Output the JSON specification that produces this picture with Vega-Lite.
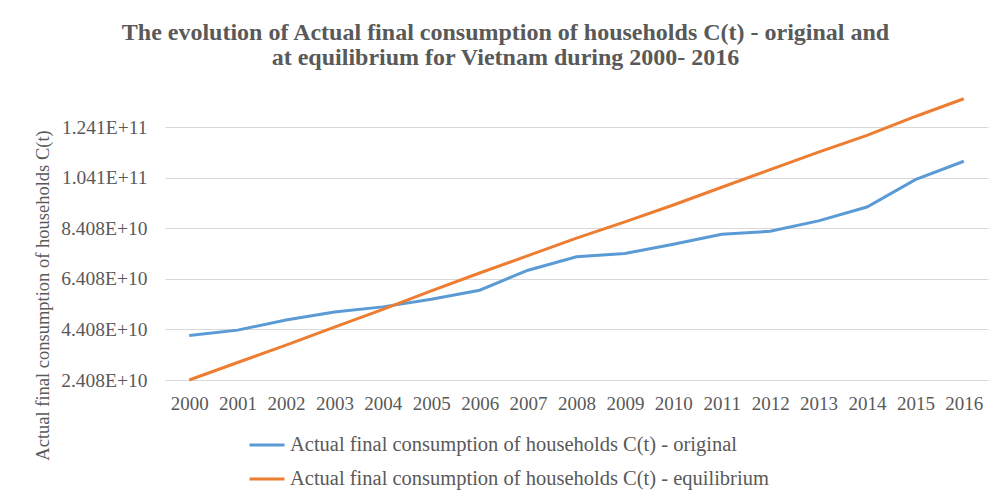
{
  "$schema": "https://vega.github.io/schema/vega-lite/v6.json",
  "width": 823,
  "height": 283,
  "autosize": {"type": "none"},
  "padding": {"left": 165, "top": 97, "right": 9, "bottom": 119},
  "background": "white",
  "title": {
    "text": ["The evolution of Actual final consumption of households C(t) - original and", "at equilibrium for Vietnam during 2000- 2016"],
    "font": "Liberation Serif",
    "fontSize": 24,
    "fontWeight": "bold",
    "color": "#595959",
    "anchor": "middle",
    "frame": "group",
    "dx": -71,
    "offset": 23,
    "lineHeight": 25
  },
  "data": {
    "values": [
      {"year": "2000", "series": "Actual final consumption of households C(t) - original", "value": 41700000000},
      {"year": "2001", "series": "Actual final consumption of households C(t) - original", "value": 43800000000},
      {"year": "2002", "series": "Actual final consumption of households C(t) - original", "value": 47800000000},
      {"year": "2003", "series": "Actual final consumption of households C(t) - original", "value": 51000000000},
      {"year": "2004", "series": "Actual final consumption of households C(t) - original", "value": 53000000000},
      {"year": "2005", "series": "Actual final consumption of households C(t) - original", "value": 56000000000},
      {"year": "2006", "series": "Actual final consumption of households C(t) - original", "value": 59600000000},
      {"year": "2007", "series": "Actual final consumption of households C(t) - original", "value": 67500000000},
      {"year": "2008", "series": "Actual final consumption of households C(t) - original", "value": 72800000000},
      {"year": "2009", "series": "Actual final consumption of households C(t) - original", "value": 74100000000},
      {"year": "2010", "series": "Actual final consumption of households C(t) - original", "value": 77800000000},
      {"year": "2011", "series": "Actual final consumption of households C(t) - original", "value": 81700000000},
      {"year": "2012", "series": "Actual final consumption of households C(t) - original", "value": 82900000000},
      {"year": "2013", "series": "Actual final consumption of households C(t) - original", "value": 87000000000},
      {"year": "2014", "series": "Actual final consumption of households C(t) - original", "value": 92500000000},
      {"year": "2015", "series": "Actual final consumption of households C(t) - original", "value": 103300000000},
      {"year": "2016", "series": "Actual final consumption of households C(t) - original", "value": 110600000000},
      {"year": "2000", "series": "Actual final consumption of households C(t) - equilibrium", "value": 24080000000},
      {"year": "2001", "series": "Actual final consumption of households C(t) - equilibrium", "value": 31000000000},
      {"year": "2002", "series": "Actual final consumption of households C(t) - equilibrium", "value": 37900000000},
      {"year": "2003", "series": "Actual final consumption of households C(t) - equilibrium", "value": 45000000000},
      {"year": "2004", "series": "Actual final consumption of households C(t) - equilibrium", "value": 52000000000},
      {"year": "2005", "series": "Actual final consumption of households C(t) - equilibrium", "value": 59300000000},
      {"year": "2006", "series": "Actual final consumption of households C(t) - equilibrium", "value": 66400000000},
      {"year": "2007", "series": "Actual final consumption of households C(t) - equilibrium", "value": 73300000000},
      {"year": "2008", "series": "Actual final consumption of households C(t) - equilibrium", "value": 80200000000},
      {"year": "2009", "series": "Actual final consumption of households C(t) - equilibrium", "value": 86600000000},
      {"year": "2010", "series": "Actual final consumption of households C(t) - equilibrium", "value": 93300000000},
      {"year": "2011", "series": "Actual final consumption of households C(t) - equilibrium", "value": 100300000000},
      {"year": "2012", "series": "Actual final consumption of households C(t) - equilibrium", "value": 107300000000},
      {"year": "2013", "series": "Actual final consumption of households C(t) - equilibrium", "value": 114200000000},
      {"year": "2014", "series": "Actual final consumption of households C(t) - equilibrium", "value": 120800000000},
      {"year": "2015", "series": "Actual final consumption of households C(t) - equilibrium", "value": 128300000000},
      {"year": "2016", "series": "Actual final consumption of households C(t) - equilibrium", "value": 135300000000}
    ]
  },
  "mark": {"type": "line", "strokeWidth": 3},
  "encoding": {
    "x": {
      "field": "year",
      "type": "ordinal",
      "scale": {"type": "point", "padding": 0.5},
      "axis": {
        "title": null,
        "labelAngle": 0,
        "ticks": false,
        "domain": false,
        "grid": false,
        "labelFont": "Liberation Serif",
        "labelFontSize": 19,
        "labelColor": "#595959",
        "labelPadding": 14
      }
    },
    "y": {
      "field": "value",
      "type": "quantitative",
      "scale": {"domain": [24080000000, 136000000000], "nice": false, "zero": false},
      "axis": {
        "values": [24080000000, 44080000000, 64080000000, 84080000000, 104080000000, 124080000000],
        "labelExpr": "replace(format(datum.value, '.3e'), 'e', 'E')",
        "ticks": false,
        "domain": false,
        "grid": true,
        "gridColor": "#D9D9D9",
        "gridWidth": 1,
        "labelFont": "Liberation Serif",
        "labelFontSize": 19.5,
        "labelColor": "#595959",
        "labelPadding": 18,
        "title": "Actual final consumption of households C(t)",
        "titleFont": "Liberation Serif",
        "titleFontSize": 18.5,
        "titleFontWeight": "normal",
        "titleColor": "#595959",
        "titleX": -123,
        "titleY": 198,
        "titleAngle": -90,
        "titleAlign": "center",
        "titleBaseline": "middle"
      }
    },
    "color": {
      "field": "series",
      "type": "nominal",
      "sort": ["Actual final consumption of households C(t) - original", "Actual final consumption of households C(t) - equilibrium"],
      "scale": {
        "domain": ["Actual final consumption of households C(t) - original", "Actual final consumption of households C(t) - equilibrium"],
        "range": ["#5B9BD5", "#ED7D31"]
      },
      "legend": {
        "title": null,
        "orient": "none",
        "legendX": 83,
        "legendY": 329,
        "direction": "vertical",
        "symbolType": "stroke",
        "symbolSize": 1225,
        "symbolStrokeWidth": 3,
        "labelFont": "Liberation Serif",
        "labelFontSize": 20.5,
        "labelColor": "#595959",
        "labelOffset": 4,
        "labelLimit": 700,
        "rowPadding": 4
      }
    }
  },
  "config": {
    "view": {"stroke": null}
  }
}
